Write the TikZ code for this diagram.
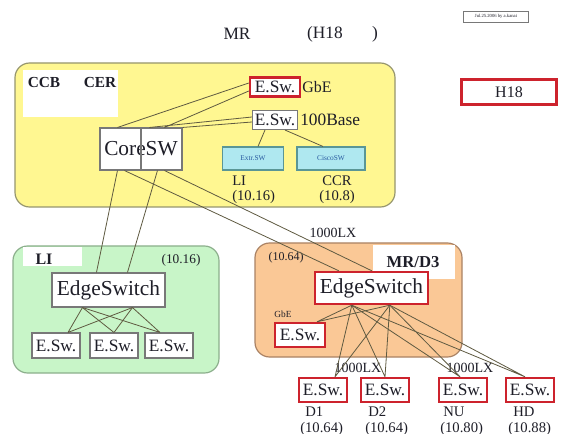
\documentclass[tikz,border=0pt]{standalone}
\usepackage{fontspec}
\setmainfont{Liberation Serif}
\usetikzlibrary{calc}
\definecolor{ylwfill}{RGB}{255,247,145}
\definecolor{ylwline}{RGB}{150,150,110}
\definecolor{grnfill}{RGB}{200,245,200}
\definecolor{grnline}{RGB}{140,175,140}
\definecolor{orgfill}{RGB}{250,200,150}
\definecolor{orgline}{RGB}{170,130,100}
\definecolor{cyanfill}{RGB}{175,232,240}
\definecolor{cyanline}{RGB}{90,150,150}
\definecolor{cyantext}{RGB}{40,90,160}
\definecolor{redline}{RGB}{205,35,45}
\definecolor{boxline}{RGB}{120,120,120}
\definecolor{wirecol}{RGB}{95,90,65}
\definecolor{ink}{RGB}{30,30,40}
\newcommand{\fsz}[1]{\fontsize{#1}{#1}\selectfont}
\begin{document}
\begin{tikzpicture}[x=0.75pt,y=-0.75pt,
  region/.style={rounded corners=11pt, line width=0.9pt},
  sw/.style={draw=boxline, fill=white, line width=0.8pt, inner sep=0pt, text=ink, font=\fsz{13}},
  redsw/.style={sw, draw=redline, line width=1.8pt},
  cysw/.style={draw=cyanline, fill=cyanfill, line width=0.8pt, inner sep=0pt, text=cyantext, font=\fsz{5.5},
               minimum height=17.25pt},
  wire/.style={draw=wirecol, line width=0.6pt},
  lbl/.style={text=ink, inner sep=0pt},
  title/.style={lbl, font=\fsz{13}},
  bold/.style={lbl, font=\bfseries\fsz{11.5}},
  small/.style={lbl, font=\fsz{11}},
  tiny/.style={lbl, font=\fsz{9}},
  esw/.style={sw, minimum width=36pt, minimum height=18.75pt},
  redesw/.style={redsw, minimum width=36pt, minimum height=18pt}
]
\useasboundingbox[fill=white] (0,0) rectangle (588,434);

% ---- coloured areas ----
\draw[region, draw=ylwline, fill=ylwfill] (15,63) rectangle (395,207);
\fill[white] (23,70) rectangle (118,117);
\draw[region, draw=grnline, fill=grnfill] (13,246) rectangle (219,373);
\fill[white] (23,247.5) rectangle (82,266);
\draw[region, draw=orgline, fill=orgfill] (255,243) rectangle (462,357);
\fill[white] (373,245.5) rectangle (455,279);

% ---- heading ----
\node[title] (tmr) at (237,34) {MR};
\node[title] (th) at (325,34) {(H18};
\node[title] (tp) at (375,34) {)};
\node[draw=boxline, line width=0.6pt, fill=white, minimum width=48.75pt, minimum height=8.25pt,
      inner sep=0pt, text=ink, font=\fsz{3.5}] (date) at (496,16.5) {Jul.25.2006 by a.kanai};
\node[redsw, minimum width=71.25pt, minimum height=18.75pt, font=\fsz{12}] (h18) at (509,92) {H18};

% ---- CCB / CER area ----
\node[bold] (ccb) at (44,83) {CCB};
\node[bold] (cer) at (100,83) {CER};
\node[redsw, minimum width=37.5pt, minimum height=14.25pt] (gbe) at (275,87) {E.Sw.};
\node[sw, minimum width=33.75pt, minimum height=14.25pt] (base) at (275,120) {E.Sw.};
\node[lbl, anchor=west, font=\fsz{12}] (gbelbl) at (302,87) {GbE};
\node[lbl, anchor=west, font=\fsz{13}] (baselbl) at (300,120) {100Base};
\node[sw, minimum width=61.5pt, minimum height=31.5pt, font=\fsz{16}] (core) at (141,149) {CoreSW};
\draw[boxline, line width=0.8pt] (core.north) -- (core.south);
\node[cysw, minimum width=45.75pt] (extr) at (253,158.5) {Extr.SW};
\node[cysw, minimum width=51pt] (cisco) at (331,158.5) {CiscoSW};
\node[small, anchor=north west, align=left] (lilbl) at (232,176) {LI\\(10.16)};
\node[small, align=center] (ccrlbl) at (337,190) {CCR\\(10.8)};

% ---- LI area ----
\node[bold, font=\bfseries\fsz{12}] (litag) at (44,259) {LI};
\node[tiny, font=\fsz{10}] (linum) at (181,260) {(10.16)};
\node[sw, minimum width=84.75pt, minimum height=25.5pt, font=\fsz{16}] (liedge) at (108.5,290) {EdgeSwitch};
\node[esw] (le1) at (56,345.5) {E.Sw.};
\node[esw] (le2) at (114,345.5) {E.Sw.};
\node[esw] (le3) at (169,345.5) {E.Sw.};

% ---- MR/D3 area ----
\node[bold, font=\bfseries\fsz{12.5}] (mrtag) at (413,262) {MR/D3};
\node[tiny] (mrnum) at (286,258) {(10.64)};
\node[redsw, minimum width=84.75pt, minimum height=24pt, font=\fsz{16}] (mredge) at (371.5,288) {EdgeSwitch};
\node[lbl, font=\fsz{7}] (mrglbl) at (283,314) {GbE};
\node[redesw, minimum width=37.5pt] (mrg) at (300,335) {E.Sw.};

% ---- remote sites ----
\node[redesw] (d1) at (323,390) {E.Sw.};
\node[redesw] (d2) at (385,390) {E.Sw.};
\node[redesw] (nu) at (463,390) {E.Sw.};
\node[redesw] (hd) at (530,390) {E.Sw.};
\node[small, anchor=west] (d1a) at (305,412) {D1};
\node[small, anchor=west] (d1b) at (300,429) {(10.64)};
\node[small, anchor=west] (d2a) at (368,412) {D2};
\node[small, anchor=west] (d2b) at (365,429) {(10.64)};
\node[small, anchor=west] (nua) at (443,412) {NU};
\node[small, anchor=west] (nub) at (440,429) {(10.80)};
\node[small, anchor=west] (hda) at (513,412) {HD};
\node[small, anchor=west] (hdb) at (508,429) {(10.88)};
\node[small, font=\fsz{10.5}] (lxa) at (333,233) {1000LX};
\node[small, font=\fsz{10.5}] (lxb) at (358,368) {1000LX};
\node[small, font=\fsz{10.5}] (lxc) at (470,368) {1000LX};

% ---- links ----
\path[wire]
  % core switches to the upper edge switches
  ($(core.north west)+(18,0)$) -- ($(gbe.west)+(0,-4)$)
  ($(core.north west)+(65,0)$) -- ($(gbe.west)+(0,4)$)
  ($(core.north west)+(50,0)$) -- ($(base.west)+(0,-3)$)
  (core.north east) -- ($(base.west)+(0,2)$)
  ($(base.south)+(-10,0)$) -- ($(extr.north)+(5,0)$)
  ($(base.south)+(10,0)$) -- ($(cisco.north)+(-8,0)$)
  % core switches down to the two building switches
  ($(core.south west)+(18,0)$) -- ($(liedge.north west)+(45,0)$)
  ($(core.south west)+(58,0)$) -- ($(liedge.north west)+(76,0)$)
  ($(core.south west)+(25,0)$) -- ($(mredge.north west)+(25,0)$)
  ($(core.south west)+(65,0)$) -- ($(mredge.north west)+(58,0)$);
\foreach \t/\dx in {le1/12, le2/0, le3/-9} {
  \path[wire] ($(liedge.south west)+(31,0)$) -- ($(\t.north)+(\dx,0)$)
              ($(liedge.south west)+(81,0)$) -- ($(\t.north)+(\dx,0)$);
}
\foreach \t/\dx in {mrg/17, d1/12, d2/0, nu/-3, hd/-5} {
  \path[wire] ($(mredge.south west)+(38,0)$) -- ($(\t.north)+(\dx,0)$)
              ($(mredge.south west)+(76,0)$) -- ($(\t.north)+(\dx,0)$);
}
\end{tikzpicture}
\end{document}
